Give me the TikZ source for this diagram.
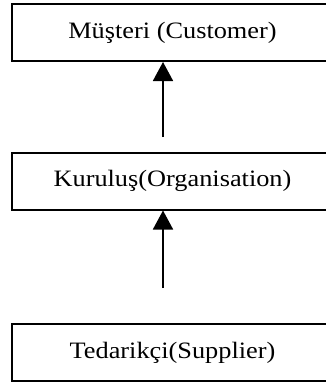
\documentclass[tikz,border=0pt]{standalone}
\usepackage{fontspec}
\setmainfont{Liberation Serif}[FakeStretch=1.12]
\usetikzlibrary{arrows.meta}
\tikzstyle{org-box} = [draw=black, line width=2pt, rectangle,
    minimum width=321pt, minimum height=57pt, inner sep=0pt,
    font=\fontsize{23.5}{27}\selectfont]
\tikzstyle{flow-arrow} = [draw=black, line width=1.8pt,
    -{Triangle[width=20pt,length=19pt]}]

\begin{document}
\begin{tikzpicture}[x=1pt,y=1pt]
\useasboundingbox (0,0) rectangle (326,-383);
\clip (0,0) rectangle (326,-383);
\node [org-box] (customer) at (172.5,-32.5) {Müşteri (Customer)};
\node [org-box] (organisation) at (172.5,-181) {Kuruluş(Organisation)};
\node [org-box] (supplier) at (172.5,-352.5) {Tedarikçi(Supplier)};
% arrow tails stop short of the lower boxes
\coordinate (tail-org) at (163,-137);
\coordinate (tail-sup) at (163,-288);
\draw [flow-arrow] (tail-org) -- (tail-org |- customer.south);
\draw [flow-arrow] (tail-sup) -- (tail-sup |- organisation.south);
\end{tikzpicture}
\end{document}
